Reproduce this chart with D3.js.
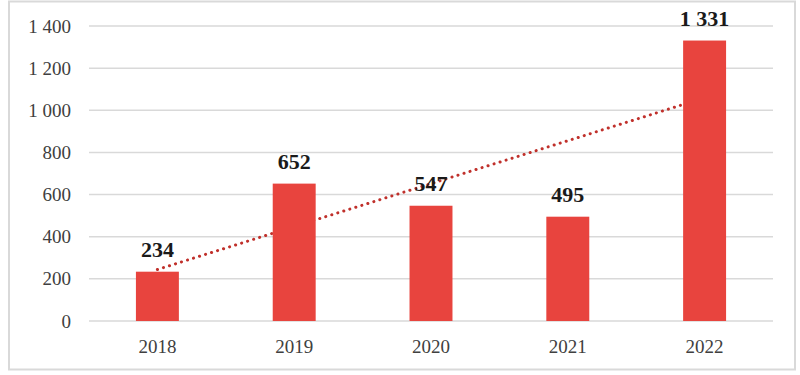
<!DOCTYPE html>
<html><head><meta charset="utf-8">
<script src="https://cdn.jsdelivr.net/npm/d3@7"></script>
<style>body{margin:0;background:#fff}svg{display:block}</style>
</head><body>
<svg id="c" width="800" height="375"></svg>
<script>
const categories = ["2018","2019","2020","2021","2022"];
const values = [234, 652, 547, 495, 1331];
const yTicks = [0, 200, 400, 600, 800, 1000, 1200, 1400];

const svg = d3.select("#c");
const mLeft = 89, mRight = 773, mTop = 26, mBottom = 321;

svg.append("rect").attr("x", 9).attr("y", 1.5).attr("width", 786).attr("height", 368)
  .attr("fill", "#fff").attr("stroke", "#d9d9d9").attr("stroke-width", 2);

const x = d3.scaleBand().domain(categories).range([mLeft, mRight]).paddingInner(0.686).paddingOuter(0.343);
const y = d3.scaleLinear().domain([0, 1400]).range([mBottom, mTop]);

const fmt = v => d3.format(",")(v).replace(/,/g, " ");

// gridlines
svg.append("g").selectAll("line").data(yTicks).join("line")
  .attr("x1", mLeft).attr("x2", mRight)
  .attr("y1", d => y(d)).attr("y2", d => y(d))
  .attr("stroke", "#d9d9d9").attr("stroke-width", 1.5);

// y axis labels
const yAxis = d3.axisLeft(y).tickValues(yTicks).tickFormat(fmt).tickSize(0).tickPadding(0);
const ga = svg.append("g").attr("transform", `translate(71,0)`).call(yAxis);
ga.select(".domain").remove();
ga.selectAll("text").attr("font-family", "Liberation Serif, Times New Roman, serif")
  .attr("font-size", 19).attr("fill", "#404040");

// x axis labels
const xAxis = d3.axisBottom(x).tickSize(0).tickPadding(0);
const gx = svg.append("g").attr("transform", `translate(0,${mBottom + 18})`).call(xAxis);
gx.select(".domain").remove();
gx.selectAll("text").attr("font-family", "Liberation Serif, Times New Roman, serif")
  .attr("font-size", 19).attr("fill", "#404040");

// linear trendline (least squares) — drawn behind bars
const n = values.length;
const xs = values.map((_, i) => i + 1);
const mx = d3.mean(xs), my = d3.mean(values);
const slope = d3.sum(xs.map((xi, i) => (xi - mx) * (values[i] - my))) / d3.sum(xs.map(xi => (xi - mx) ** 2));
const icpt = my - slope * mx;
const cx = c => x(c) + x.bandwidth() / 2;
svg.append("line")
  .attr("x1", cx(categories[0])).attr("y1", y(icpt + slope * 1))
  .attr("x2", cx(categories[n - 1])).attr("y2", y(icpt + slope * n))
  .attr("stroke", "#c0302b").attr("stroke-width", 3)
  .attr("stroke-linecap", "round").attr("stroke-dasharray", "0.1 6.2");

// bars
svg.append("g").selectAll("rect").data(values).join("rect")
  .attr("x", (d, i) => x(categories[i]))
  .attr("y", d => y(d))
  .attr("width", x.bandwidth())
  .attr("height", d => y(0) - y(d))
  .attr("fill", "#e8443e");

// value labels
svg.append("g").selectAll("text").data(values).join("text")
  .attr("x", (d, i) => cx(categories[i]))
  .attr("y", d => y(d) - 14.5)
  .attr("text-anchor", "middle")
  .attr("font-family", "Liberation Serif, Times New Roman, serif")
  .attr("font-weight", "bold").attr("font-size", 22).attr("fill", "#1a1a1a")
  .text(d => fmt(d));
</script>
</body></html>
